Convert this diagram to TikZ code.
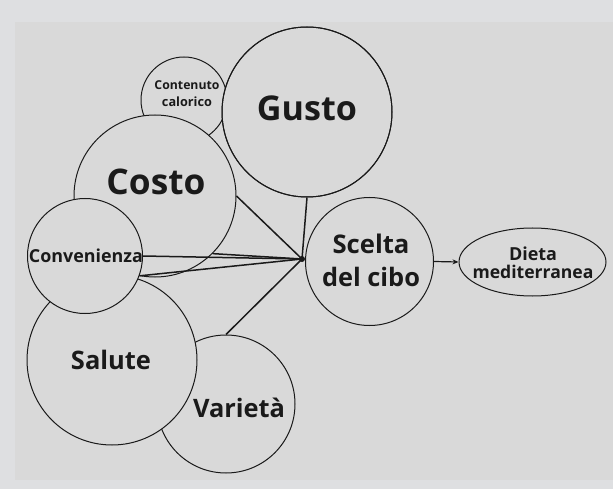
\documentclass[tikz,border=0pt]{standalone}
\usepackage{fontspec}
\setmainfont{Open Sans}
\usetikzlibrary{arrows.meta,shapes.geometric}
\definecolor{outerbg}{HTML}{DEDFE1}
\definecolor{innerbg}{HTML}{D9D9D9}
\definecolor{ink}{HTML}{1A1A1A}
\tikzset{
  bubble/.style={circle, draw=ink, line width=1pt, fill=innerbg, inner sep=0pt},
  link/.style={draw=ink, line width=1.5pt},
  lbl/.style={text=ink, inner sep=0pt, align=center},
}
\newcommand\fitto[2]{\resizebox{#1pt}{!}{#2}}
\begin{document}
\begin{tikzpicture}[x=1pt,y=-1pt]
\fill[outerbg] (0,0) rectangle (613,489);
\fill[innerbg] (15,22) rectangle (613,480);
\useasboundingbox (0,0) rectangle (613,489);

% circles, back to front
\node[bubble, minimum size=86pt]  (cont)    at (184,100) {};
\node[bubble, minimum size=170pt] (gusto)   at (307,112) {};
\node[bubble, minimum size=162pt] (costo)   at (155,196) {};
\draw[ink, line width=1pt] (gusto) circle[radius=85pt];
\node[bubble, minimum size=138pt] (varieta) at (226,404) {};
\node[bubble, minimum size=170pt] (salute)  at (112,360) {};
\node[bubble, minimum size=115pt] (conv)    at (85,256) {};
\node[bubble, minimum size=128pt] (scelta)  at (369.5,261.5) {};
\node[ellipse, draw=ink, line width=1pt, minimum width=147pt, minimum height=68pt, inner sep=0pt] (dieta) at (532.5,262) {};

% connectors
\coordinate (hub) at (302,259);
\draw[link] (gusto.south) -- (hub);
\draw[link] (costo.east) -- (hub);
\draw[link] (costo.-45) -- (hub);
\draw[link] (conv.east) -- (hub);
\draw[link] (conv.-20) -- (hub);
\draw[link] (varieta.north) -- (hub);
\fill[ink] (hub) circle[radius=3pt];
\draw[ink, line width=1.2pt, -{Stealth[length=6pt,width=5pt]}] (scelta.east) -- (dieta.west);

% labels
\node[lbl, font=\bfseries] (tgusto) at (307,108) {\fitto{100}{Gusto}};
\node[lbl, font=\bfseries] (tcosto) at (156,182) {\fitto{99}{Costo}};
\node[lbl, font=\fontsize{10}{17.5}\selectfont\bfseries] (tcont) at (187,93.5) {\fitto{65}{Contenuto}\\\fitto{50}{calorico}};
\node[lbl, font=\bfseries] (tconv) at (86,256) {\fitto{114}{Convenienza}};
\node[lbl, font=\bfseries] (tsalute) at (111,360) {\fitto{80}{Salute}};
\node[lbl, font=\bfseries] (tvarieta) at (239,408) {\fitto{92}{Varietà}};
\node[lbl, font=\fontsize{20}{33}\selectfont\bfseries] (tscelta) at (371,260.5) {\fitto{77}{Scelta}\\\fitto{98}{del cibo}};
\node[lbl, font=\fontsize{14}{18}\selectfont\bfseries] (tdieta) at (533,262.5) {\fitto{48}{Dieta}\\\fitto{121}{mediterranea}};
\end{tikzpicture}
\end{document}
